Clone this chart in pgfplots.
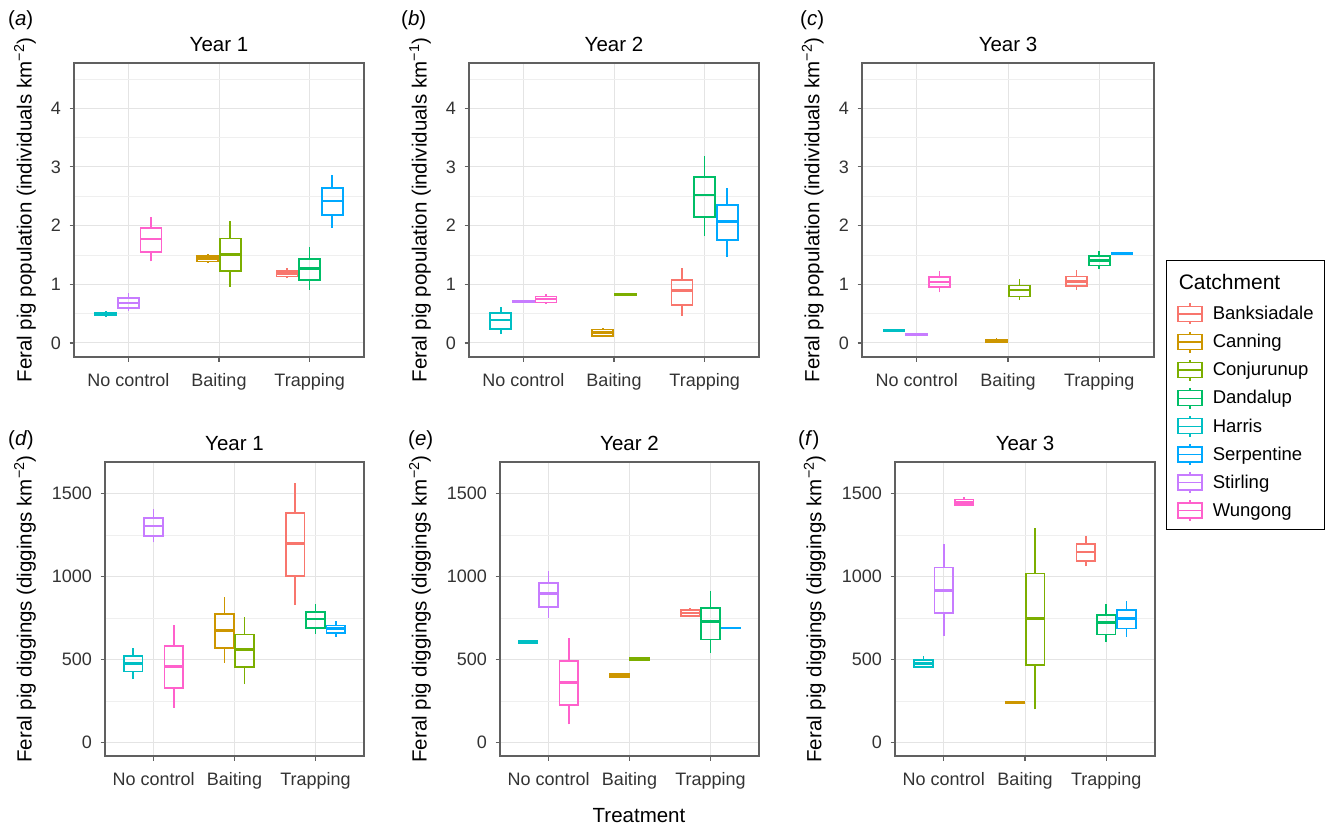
\documentclass[border=0pt]{standalone}
\usepackage{fontspec}
\setmainfont{Liberation Sans}
\usepackage{pgfplots}
\pgfplotsset{compat=1.18}

\definecolor{bank}{HTML}{F8766D}
\definecolor{cann}{HTML}{CD9600}
\definecolor{conj}{HTML}{7CAE00}
\definecolor{dand}{HTML}{00BE67}
\definecolor{harr}{HTML}{00BFC4}
\definecolor{serp}{HTML}{00A9FF}
\definecolor{stir}{HTML}{C77CFF}
\definecolor{wung}{HTML}{FF61CC}
\definecolor{ggborder}{HTML}{606060}
\definecolor{ggmaj}{HTML}{E4E4E4}
\definecolor{ggmin}{HTML}{EFEFEF}
\definecolor{ggtext}{HTML}{333333}

% box: colour, position, lower whisker, q1, median, q3, upper whisker
\newcommand{\bx}[7]{%
  \pgfmathsetmacro\xl{#2-0.115}\pgfmathsetmacro\xr{#2+0.115}%
  \addplot[forget plot, draw=#1, line width=1.7pt, line join=miter]
    coordinates {(\xl,#4) (\xr,#4) (\xr,#6) (\xl,#6)} -- cycle;
  \addplot[forget plot, draw=#1, line width=1.7pt, unbounded coords=jump]
    coordinates {(#2,#3) (#2,#4) (#2,nan) (#2,#6) (#2,#7)};
  \addplot[forget plot, draw=#1, line width=2.6pt]
    coordinates {(\xl,#5) (\xr,#5)};
}
\newcommand{\legtxt}[1]{\raisebox{0pt}[13pt][0pt]{#1}}

\pgfplotsset{
  gg/.style={
    scale only axis,
    height=294pt,
    xmin=0.4, xmax=3.6,
    xtick={1,2,3}, xticklabels={No control,Baiting,Trapping},
    tick pos=left, tick align=outside,
    major tick length=4.5pt, minor tick length=0pt,
    every tick/.style={draw=ggborder, line width=1.2pt},
    axis line style={draw=ggborder, line width=1.8pt},
    xmajorgrids, ymajorgrids, yminorgrids,
    major grid style={draw=ggmaj, line width=1pt},
    minor grid style={draw=ggmin, line width=0.6pt},
    ticklabel style={font=\fontsize{18}{20}\selectfont, text=ggtext},
    xticklabel style={yshift=-8pt},
    yticklabel style={xshift=-5pt},
    /pgf/number format/assume math mode=true,
    /pgf/number format/1000 sep={},
    title style={font=\fontsize{20.5}{24}\selectfont, yshift=2pt},
  },
  toprow/.style={gg, ymin=-0.24, ymax=4.77, ytick={0,1,2,3,4},
    minor ytick={0.5,1.5,2.5,3.5,4.5},
    every axis y label/.style={at={(axis description cs:-0.169,0.5)}, rotate=90, anchor=center,
      font=\fontsize{20.5}{24}\selectfont}},
  botrow/.style={gg, ymin=-80, ymax=1690, ytick={0,500,1000,1500},
    minor ytick={250,750,1250},
    every axis y label/.style={at={(axis description cs:-0.309,0.5)}, rotate=90, anchor=center,
      font=\fontsize{20.5}{24}\selectfont}},
}

\begin{document}
\begin{tikzpicture}
\useasboundingbox (0pt,0pt) rectangle (1328pt,-827pt);

% (a) population, Year 1
\begin{axis}[toprow, at={(74pt,-357pt)}, anchor=south west, width=290pt,
  title={Year 1}, ylabel={Feral pig population (individuals km\textsuperscript{−2})}]
\bx{harr}{0.75}{0.45}{0.48}{0.50}{0.52}{0.55}
\bx{stir}{1.00}{0.54}{0.59}{0.68}{0.76}{0.85}
\bx{wung}{1.25}{1.39}{1.55}{1.77}{1.96}{2.15}
\bx{cann}{1.875}{1.36}{1.39}{1.44}{1.48}{1.52}
\bx{conj}{2.125}{0.96}{1.22}{1.51}{1.78}{2.07}
\bx{bank}{2.75}{1.10}{1.13}{1.18}{1.22}{1.27}
\bx{dand}{3.00}{0.91}{1.07}{1.27}{1.43}{1.64}
\bx{serp}{3.25}{1.96}{2.18}{2.42}{2.64}{2.86}
\end{axis}

% (b) population, Year 2
\begin{axis}[toprow, at={(469pt,-357pt)}, anchor=south west, width=290pt,
  title={Year 2}, ylabel={Feral pig population (individuals km\textsuperscript{−1})}]
\bx{harr}{0.75}{0.15}{0.24}{0.39}{0.51}{0.62}
\bx{stir}{1.00}{0.70}{0.70}{0.71}{0.72}{0.73}
\bx{wung}{1.25}{0.66}{0.69}{0.75}{0.79}{0.83}
\bx{cann}{1.875}{0.10}{0.12}{0.18}{0.23}{0.26}
\bx{conj}{2.125}{0.82}{0.82}{0.83}{0.84}{0.84}
\bx{bank}{2.75}{0.46}{0.65}{0.89}{1.07}{1.28}
\bx{dand}{3.00}{1.82}{2.14}{2.52}{2.83}{3.19}
\bx{serp}{3.25}{1.47}{1.75}{2.07}{2.35}{2.64}
\end{axis}

% (c) population, Year 3 (carries the legend)
\begin{axis}[toprow, at={(862pt,-357pt)}, anchor=south west, width=292pt,
  title={Year 3}, ylabel={Feral pig population (individuals km\textsuperscript{−2})},
  legend image code/.code={
    \draw[line width=1.3pt,#1] (0pt,-7.5pt) rectangle (24pt,7.5pt);
    \draw[line width=1.3pt,#1] (0pt,0pt) -- (24pt,0pt);
    \draw[line width=1.3pt,#1] (12pt,7.5pt) -- (12pt,10.5pt);
    \draw[line width=1.3pt,#1] (12pt,-7.5pt) -- (12pt,-10.5pt);
  },
  legend cell align=left,
  legend style={at={(axis description cs:1.041,0.330)}, anchor=north west,
    draw=black, line width=1pt, fill=white,
    font=\fontsize{18.5}{20}\selectfont,
    nodes={inner sep=0pt}, inner xsep=11pt, inner ysep=7.5pt,
    column sep=10pt, row sep=5.8pt}]
\bx{harr}{0.75}{0.19}{0.20}{0.21}{0.22}{0.23}
\bx{stir}{1.00}{0.13}{0.14}{0.15}{0.16}{0.17}
\bx{wung}{1.25}{0.86}{0.95}{1.04}{1.12}{1.23}
\bx{cann}{1.875}{0.01}{0.02}{0.04}{0.06}{0.08}
\bx{conj}{2.125}{0.73}{0.79}{0.90}{0.98}{1.09}
\bx{bank}{2.75}{0.91}{0.97}{1.05}{1.13}{1.24}
\bx{dand}{3.00}{1.26}{1.32}{1.40}{1.48}{1.56}
\bx{serp}{3.25}{1.52}{1.52}{1.53}{1.54}{1.55}
\addlegendimage{empty legend}
\addlegendentry{\hspace{-34pt}\fontsize{21}{24}\selectfont\raisebox{5.5pt}[27.5pt][0pt]{Catchment}}
\addlegendimage{draw=bank}\addlegendentry{\legtxt{Banksiadale}}
\addlegendimage{draw=cann}\addlegendentry{\legtxt{Canning}}
\addlegendimage{draw=conj}\addlegendentry{\legtxt{Conjurunup}}
\addlegendimage{draw=dand}\addlegendentry{\legtxt{Dandalup}}
\addlegendimage{draw=harr}\addlegendentry{\legtxt{Harris}}
\addlegendimage{draw=serp}\addlegendentry{\legtxt{Serpentine}}
\addlegendimage{draw=stir}\addlegendentry{\legtxt{Stirling}}
\addlegendimage{draw=wung}\addlegendentry{\legtxt{Wungong}}
\end{axis}

% (d) diggings, Year 1
\begin{axis}[botrow, at={(105pt,-756pt)}, anchor=south west, width=259pt,
  title={Year 1}, ylabel={Feral pig diggings (diggings km\textsuperscript{−2})}]
\bx{harr}{0.75}{383}{429}{478}{524}{571}
\bx{stir}{1.00}{1206}{1246}{1304}{1355}{1407}
\bx{wung}{1.25}{212}{329}{460}{581}{708}
\bx{cann}{1.875}{480}{569}{675}{776}{877}
\bx{conj}{2.125}{353}{454}{560}{651}{758}
\bx{bank}{2.75}{829}{1004}{1200}{1381}{1563}
\bx{dand}{3.00}{657}{692}{744}{786}{833}
\bx{serp}{3.25}{637}{661}{688}{706}{732}
\end{axis}

% (e) diggings, Year 2
\begin{axis}[botrow, at={(500pt,-756pt)}, anchor=south west, width=259pt,
  title={Year 2}, ylabel={Feral pig diggings (diggings km\textsuperscript{−2})}]
\bx{harr}{0.75}{598}{602}{608}{614}{618}
\bx{stir}{1.00}{748}{819}{899}{962}{1032}
\bx{wung}{1.25}{111}{225}{364}{493}{628}
\bx{cann}{1.875}{392}{396}{402}{412}{418}
\bx{conj}{2.125}{493}{498}{503}{510}{513}
\bx{bank}{2.75}{755}{765}{781}{797}{809}
\bx{dand}{3.00}{543}{622}{728}{811}{911}
\bx{serp}{3.25}{686}{688}{690}{692}{694}
\end{axis}

% (f) diggings, Year 3
\begin{axis}[botrow, at={(895pt,-756pt)}, anchor=south west, width=260pt,
  title={Year 3}, ylabel={Feral pig diggings (diggings km\textsuperscript{−2})}]
\bx{harr}{0.75}{450}{456}{478}{496}{520}
\bx{stir}{1.00}{643}{781}{916}{1054}{1199}
\bx{wung}{1.25}{1428}{1432}{1448}{1464}{1480}
\bx{cann}{1.875}{240}{241}{243}{245}{246}
\bx{conj}{2.125}{201}{466}{749}{1018}{1293}
\bx{bank}{2.75}{1062}{1096}{1149}{1195}{1243}
\bx{dand}{3.00}{608}{651}{723}{771}{833}
\bx{serp}{3.25}{637}{687}{749}{797}{851}
\end{axis}

% panel letters and common x title
\begin{scope}[every node/.style={font=\fontsize{20.5}{24}\selectfont, anchor=base west, inner sep=0pt}]
\node at (8pt,-25pt) {(\textit{a})};
\node at (401pt,-25pt) {(\textit{b})};
\node at (800pt,-25pt) {(\textit{c})};
\node at (8pt,-445pt) {(\textit{d})};
\node at (408pt,-445pt) {(\textit{e})};
\node at (798pt,-445pt) {(\textit{f})};
\end{scope}
\node[font=\fontsize{20.5}{24}\selectfont, anchor=base, inner sep=0pt] at (639pt,-822pt) {Treatment};
\end{tikzpicture}
\end{document}
